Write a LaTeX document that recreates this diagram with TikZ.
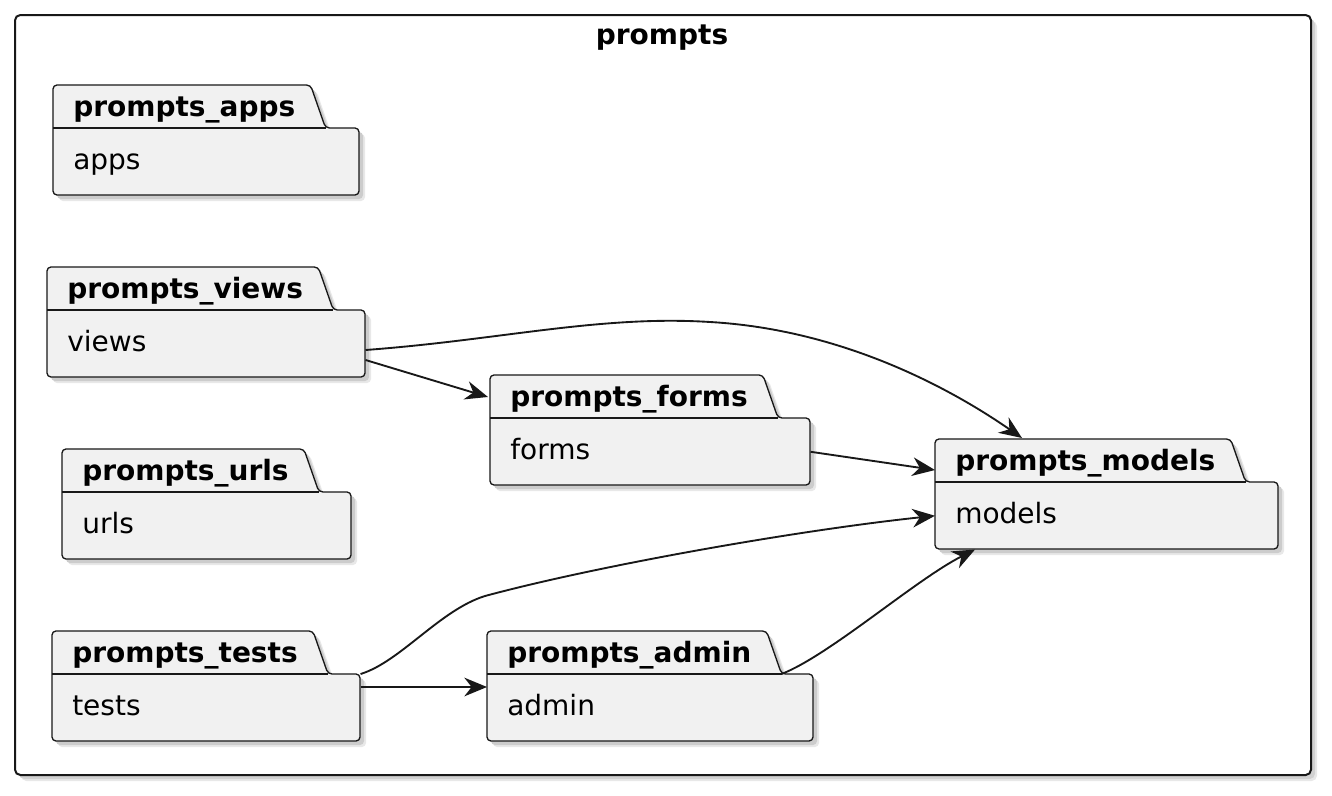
\documentclass[tikz,border=0pt]{standalone}
\usepackage{fontspec}
\setmainfont{DejaVu Sans}
\usetikzlibrary{arrows.meta,calc}
\definecolor{pkgfill}{HTML}{F1F1F1}
\definecolor{ink}{HTML}{181818}
\pgfdeclarelayer{bg}
\pgfsetlayers{bg,main}
\tikzset{
 ttl/.style={font=\fontsize{21}{25}\selectfont\bfseries, inner sep=0},
 btxt/.style={font=\fontsize{21}{25}\selectfont, inner sep=0},
 pkgshape/.style={fill=pkgfill, draw=ink, line width=1pt, rounded corners=3pt,
   preaction={fill=black!9, transform canvas={shift={(6,6)}}},
   preaction={fill=black!20, transform canvas={shift={(4,4)}}}},
 frame/.style={draw=ink, fill=white, line width=1.5pt, rounded corners=4pt,
   preaction={fill=black!9, transform canvas={shift={(6,6)}}},
   preaction={fill=black!18, transform canvas={shift={(4,4)}}}},
 arr/.style={draw=ink, line width=1.4pt, -{Stealth[length=17pt,width=14pt,inset=5.5pt]}},
}
\newcommand\pkg[6]{%
 \coordinate (#1-top) at (#2,#3);
 \coordinate (#1-mid) at (#2,#3+43);
 \node[ttl, anchor=base west] (#1-t) at (#2+20,#3+31) {#5};
 \coordinate (#1-tr) at ($(#1-t.east |- #1-top)+(15,0)$);
 \coordinate (#1-tb) at ($(#1-t.east |- #1-mid)+(30,0)$);
 \node[anchor=north west, inner sep=0, minimum width={(#4-#2)*0.75pt}, minimum height=50.25pt] (#1) at (#1-mid) {};
 \node[btxt, anchor=base west] (#1-l) at (#2+20,#3+84) {#6};
 \begin{pgfonlayer}{bg}
 \path[pkgshape] (#2,#3+80) -- (#1-top) -- (#1-tr) -- (#1-tb) -- (#4,#3+43) -- (#4,#3+110) -- (#2,#3+110) -- cycle;
 \draw[ink, line width=1pt] (#1-mid) -- (#1-tb);
 \end{pgfonlayer}
}
\begin{document}
\begin{tikzpicture}[x=0.75pt,y=-0.75pt]
\useasboundingbox (0,0) rectangle (1332,796);
\begin{pgfonlayer}{bg}
\node[frame, anchor=north west, inner sep=0, minimum width=972pt, minimum height=570pt] (prompts) at (14,14) {};
\end{pgfonlayer}
\node[ttl, anchor=base] (prompts-t) at (662,44) {prompts};

\pkg{apps}{53}{85}{359}{prompts\_apps}{apps}
\pkg{views}{47}{267}{365}{prompts\_views}{views}
\pkg{urls}{62}{449}{351}{prompts\_urls}{urls}
\pkg{tests}{52}{631}{360}{prompts\_tests}{tests}
\pkg{forms}{490}{375}{810}{prompts\_forms}{forms}
\pkg{admin}{487}{631}{813}{prompts\_admin}{admin}
\pkg{models}{935}{439}{1278}{prompts\_models}{models}

\draw[arr] ($(views.north east)+(0,40)$) .. controls (500,340) and (600,315) .. (710,322) .. controls (850,330) and (960,395) .. ($(models-top)+(87,-1)$);
\draw[arr] ($(views.north east)+(0,50)$) -- ($(forms-top)+(-2,22)$);
\draw[arr] (forms.east) -- ($(models-top)+(0,31)$);
\draw[arr] (tests.north east) .. controls (400,662) and (440,610) .. (485,596) .. controls (600,565) and (800,530) .. (models.west);
\draw[arr] ($(tests.north east)+(0,13)$) -- ($(admin.north west)+(0,13)$);
\draw[arr] (admin-tb) .. controls (830,655) and (915,580) .. ($(models.south west)+(40,0)$);
\end{tikzpicture}
\end{document}
